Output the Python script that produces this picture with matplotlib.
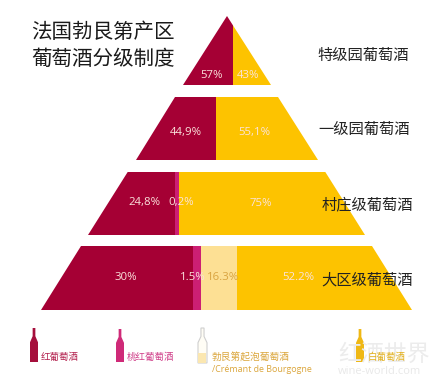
import matplotlib
matplotlib.use("Agg")
import matplotlib.pyplot as plt
from matplotlib.patches import Polygon

plt.rcParams['font.family'] = ['Noto Sans CJK SC', 'DejaVu Sans']

title_lines = ["法国勃艮第产区", "葡萄酒分级制度"]
tier_names = ["特级园葡萄酒", "一级园葡萄酒", "村庄级葡萄酒", "大区级葡萄酒"]

# labels printed on the picture
tier_labels = [["57%", "43%"],
               ["44,9%", "55,1%"],
               ["24,8%", "0,2%", "75%"],
               ["30%", "1.5%", "16.3%", "52.2%"]]
# the bands are not drawn to scale in the original, so these are the drawn shares
shares_1 = [57, 43]
shares_2 = [44, 56]
shares_3 = [31.4, 1.5, 67.1]
shares_4 = [41, 2.2, 9.6, 47.2]
colors_1 = ["#a50034", "#fdc300"]
colors_2 = ["#a50034", "#fdc300"]
colors_3 = ["#a50034", "#cc1f73", "#fdc300"]
colors_4 = ["#a50034", "#cc1f73", "#fde094", "#fdc300"]

legend_names = ["红葡萄酒", "桃红葡萄酒", "勃艮第起泡葡萄酒", "白葡萄酒"]

fig = plt.figure(figsize=(4.43, 3.88), dpi=100)
ax = fig.add_axes([0, 0, 1, 1])
ax.set_xlim(0, 443)
ax.set_ylim(388, 0)
ax.axis("off")


def tier(y0, y1, top_l, top_r, bot_l, bot_r, shares, colors):
    shape = Polygon([(top_l, y0), (top_r, y0), (bot_r, y1), (bot_l, y1)],
                    closed=True, transform=ax.transData, fc="none", ec="none")
    ax.add_patch(shape)
    left = bot_l
    scale = (bot_r - bot_l) / sum(shares)
    for s, c in zip(shares, colors):
        b = ax.barh((y0 + y1) / 2, s * scale, height=y1 - y0, left=left, color=c, lw=0)
        b[0].set_clip_path(shape)
        left += s * scale


tier(16, 85, 227, 227, 183, 271, shares_1, colors_1)
tier(97, 160, 175, 278, 136, 318, shares_2, colors_2)
tier(171.5, 235, 128, 325, 88, 365, shares_3, colors_3)
tier(246, 310, 81, 372, 41, 412, shares_4, colors_4)

# percent labels
pct_x = [[212, 248], [186, 254], [145, 181, 261], [126, 193, 223, 298]]
pct_y = [76, 132, 203, 278]
for xs, y, labs in zip(pct_x, pct_y, tier_labels):
    for x, lab in zip(xs, labs):
        col = "#d9a441" if lab == "16.3%" else "#fbe3dc"
        ax.text(x, y, lab, color=col, fontsize=8.2, family="Open Sans", ha="center", va="center")

for line, y in zip(title_lines, [32, 59]):
    ax.text(31, y, line, fontsize=14.8, color="#1a1a1a", ha="left", va="center")

name_x = [317, 318, 322, 321]
name_y = [55, 129, 204.5, 280]
for x, y, name in zip(name_x, name_y, tier_names):
    ax.text(x, y, name, fontsize=11, color="#222222", ha="left", va="center")

# watermark
ax.text(338, 354, "红酒世界", fontsize=16.5, color="#ececec", ha="left", va="center")
ax.text(338, 372, "wine-world.com", fontsize=8, color="#e8e8e8", family="Open Sans", ha="left", va="center")


def bottle(x0, x1, y0, y1, color, ec="none"):
    w = x1 - x0
    h = y1 - y0
    pts = [(x0 + w * .33, y0), (x0 + w * .67, y0), (x0 + w * .67, y0 + h * .24),
           (x1, y0 + h * .42), (x1, y1), (x0, y1), (x0, y0 + h * .42), (x0 + w * .33, y0 + h * .24)]
    ax.add_patch(Polygon(pts, closed=True, fc=color, ec=ec, lw=0.8))


bottle(30, 38, 328, 362, "#a50f3c")
bottle(116, 124, 329, 362, "#cf2a78")
bottle(198, 207, 328, 363, "#fffdf5", ec="#cfcfcf")
ax.add_patch(Polygon([(198.5, 353), (206.5, 353), (206.5, 362.5), (198.5, 362.5)], closed=True, fc="#fbe7b0", ec="none"))
bottle(356, 364, 329, 362, "#efb815")

ax.text(41, 357, legend_names[0], fontsize=6.8, color="#b3224f", ha="left", va="center")
ax.text(127, 357, legend_names[1], fontsize=6.8, color="#d0408a", ha="left", va="center")
ax.text(212, 357, legend_names[2], fontsize=7, color="#dba63c", ha="left", va="center")
ax.text(212, 369, "/Crémant de Bourgogne", fontsize=6.4, color="#dba63c", family="Open Sans", ha="left", va="center")
ax.text(368, 357, legend_names[3], fontsize=6.8, color="#e3b11e", ha="left", va="center")

fig.savefig("out.png", dpi=100)
